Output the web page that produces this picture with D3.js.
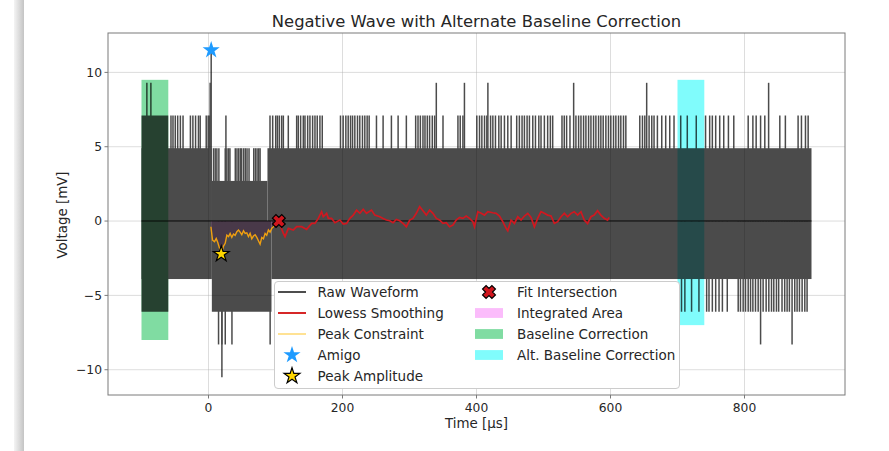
<!DOCTYPE html>
<html><head><meta charset="utf-8">
<script src="https://cdn.jsdelivr.net/npm/d3@7/dist/d3.min.js"></script>
<style>body{margin:0;background:#fff} text{font-family:"DejaVu Sans",sans-serif;fill:#262626}</style>
</head><body><svg id="c" width="889" height="451"></svg>
<script>
// ---------------- data ----------------
const xTicks = [0, 200, 400, 600, 800];
const yTicks = [-10, -5, 0, 5, 10];

// raw waveform envelope (step segments)
const bandTopX = [-100, 5, 88, 900];
const bandTopY = [4.9, 2.7, 4.9];
const bandBotX = [-100, 5, 94, 900];
const bandBotY = [-3.9, -6.1, -3.9];
// densely filled burst: [x0, x1, low, high]
const denseSpans = [[-100, -60, -6.1, 7.1]];
// spike positions (time) by level reached
const spikesTo7 = [-56,-53,-49.6,-46,-42,-38,-27,-23.3,-19.3,-15,-12.4,-3.4,-0.5,1.5,26,
  91.8,95.8,100.3,102.8,105.7,109.2,111.7,119.1,131.6,134,137.5,141.5,144,148,151.4,155.4,158.9,162.3,166.3,169.8,
  197,201,205,208.5,212,215,218.4,222.4,225.8,229.8,233.3,236.8,239.8,250.7,260.6,273,283,295.3,
  309.2,312.7,316.2,320.1,323.1,326.6,330,334,337.5,350,372.3,375.7,379.7,
  400.5,404.5,408,412,415.4,421,424.4,428.3,433.3,436.8,441.7,446.7,451.7,
  460,464,468,471.5,475.5,479,484,488,493,496.3,501.3,506.2,510.2,513.7,
  527.6,531,534.5,539.5,548.4,552.4,555.9,559.8,563.3,567.3,570.8,574.7,578.2,582.2,585.6,589.1,593.1,597,600.5,604.5,608,612,615.4,619.4,622.9,
  643.7,647.7,651.2,657.6,661.6,665,670,676.5,682.4,688.4,694.8,
  704.8,714.6,728,741.9,748,752,757,763,769,776,784,
  805.5,812.5,817.4,824,830.3,852.7,861,880,885,891,895];
const spikesTo5 = [7.5,10,12.5,15.5,25,27.5,30,32,40,42.5,45,47.5,49.5,52.5,55,57.5,60.5,67.5,70,72.5,75,77];
const spikesTo9 = [-92,-86,2.5,340,382,417,545,654,836];
const spikesTo11 = [4];
const spikesToM6 = [706,711,721,732,743.5,747,752,757,762,767,774.3,790.6,794,798,801.5,805.5,809,812.5,816.4,820.4,
  827.8,832.3,836.3,840.3,843.7,847.7,851,856,860,863.6,867,875,878.5,882,886,890,893.4];
const spikesToM8 = [15,20,25,35,92,824,871];
const spikesToM10 = [20];
const spikeLevels = {"7.1": spikesTo7, "4.9": spikesTo5, "9.3": spikesTo9, "11.5": spikesTo11,
  "-6.1": spikesToM6, "-8.3": spikesToM8, "-10.5": spikesToM10};

// peak constraint (orange) and lowess smoothing (red)
const peakX = [3.6,6,9,11.5,14,16.5,19,22.4,24.9,27.4,29.9,32.3,34.8,37.3,39.8,42.3,44.8,47.2,49.7,52.2,54.7,57.2,59.6,62.1,64.6,67.1,69.6,72.1,74.5,77,79.5,82,84.5,86.9,89.4,91.9,94.4,96.9,100.3,104.3];
const peakY = [-0.38,-1.28,-1.39,-1.17,-1.46,-1.84,-2.22,-1.68,-1.5,-0.94,-1.05,-0.83,-1.1,-0.87,-0.96,-0.72,-0.6,-0.74,-0.92,-0.65,-0.83,-0.79,-1.05,-0.83,-1.19,-1.01,-0.92,-1.1,-1.32,-1.55,-1.1,-1.19,-0.83,-0.96,-0.6,-0.74,-0.49,-0.38,-0.2,-0.04];
const lowessX = [106.8,111.8,114.2,119.2,126.6,131.6,139,146.5,153.9,158.9,163.9,168.8,171.3,176.3,178.8,183.7,188.7,196.1,201.1,206.1,211,216,221,225.9,230.9,235.8,243.3,248.2,255.7,
  260.6,265.5,270.5,275.5,280.4,285.4,290.3,295.3,300.3,305.2,310.2,315.2,320.1,325.1,330,335,340,344.9,349.9,354.9,359.8,364.8,369.7,374.7,379.7,384.6,389.6,394.6,397,
  402,407,411.9,416.9,424.3,429.3,434.3,439.2,444.2,446.7,451.6,456.6,461.6,466.5,471.5,476.5,481.4,486.4,491.3,496.3,501.3,506.2,511.2,516.2,521.1,526.1,531.1,536,541,545.9,550.9,555.9,560.8,565.8,570.8,575.7,580.7,585.6,590.6,595.6,598];
const lowessY = [-0.27,-0.83,-1.05,-0.49,-0.6,-0.38,-0.38,-0.56,-0.16,-0.16,0.18,0.63,0.29,0.52,0.18,0.18,-0.11,0.07,-0.2,-0.16,0.18,0.4,0.74,0.52,0.79,0.52,0.74,0.4,0.29,
  0.18,0.07,0.02,-0.11,0.11,0.02,-0.16,-0.38,0.07,0.18,0.52,0.97,0.7,0.4,0.74,0.52,0.18,0.07,-0.16,-0.11,-0.38,-0.27,0.07,0.25,0.18,0.34,0.18,-0.04,-0.38,
  0.63,0.52,0.4,0.63,0.56,0.52,0.34,-0.04,-0.49,-0.65,0.07,-0.16,0.29,0.07,0.34,0.52,0.25,-0.38,0.18,0.63,0.52,0.4,0.34,-0.16,-0.04,0.29,0.52,0.29,0.52,0.63,0.4,0.63,0.07,-0.16,0.29,0.4,0.7,0.4,0.18,0.07,0.25];

const amigo = [4, 11.5];
const peakAmp = [19, -2.22];
const fitPt = [105, 0];
const baselineSpan = [-100, -60, -8, 9.5];
const altBaselineSpan = [700, 740, -7, 9.5];
const zeroLine = [-100, 900];

const legendCol1 = ["Raw Waveform", "Lowess Smoothing", "Peak Constraint", "Amigo", "Peak Amplitude"];
const legendCol2 = ["Fit Intersection", "Integrated Area", "Baseline Correction", "Alt. Baseline Correction"];

// ---------------- drawing ----------------
const svg = d3.select("#c");
const L = 108, R = 845, T = 33, B = 395;
const x = d3.scaleLinear().domain([-150, 950]).range([L, R]);
const y = d3.scaleLinear().domain([-11.7, 12.65]).range([B, T]);

svg.append("rect").attr("width", 889).attr("height", 451).attr("fill", "#fff");
// notebook side shadow strip
const defs = svg.append("defs");
const g1 = defs.append("linearGradient").attr("id", "sh");
g1.append("stop").attr("offset", "0").attr("stop-color", "#f4f4f4");
g1.append("stop").attr("offset", "1").attr("stop-color", "#c4c4c4");
svg.append("rect").attr("x", 14).attr("y", 0).attr("width", 10).attr("height", 451).attr("fill", "url(#sh)");

// grid
const grid = svg.append("g").attr("stroke", "#b0b0b0").attr("stroke-opacity", 0.55).attr("stroke-width", 0.8);
xTicks.forEach(t => grid.append("line").attr("x1", x(t)).attr("x2", x(t)).attr("y1", T).attr("y2", B));
yTicks.forEach(t => grid.append("line").attr("y1", y(t)).attr("y2", y(t)).attr("x1", L).attr("x2", R));

// spans
svg.append("rect").attr("x", x(baselineSpan[0])).attr("width", x(baselineSpan[1]) - x(baselineSpan[0]))
  .attr("y", y(baselineSpan[3])).attr("height", y(baselineSpan[2]) - y(baselineSpan[3])).attr("fill", "#80dca2");
svg.append("rect").attr("x", x(altBaselineSpan[0])).attr("width", x(altBaselineSpan[1]) - x(altBaselineSpan[0]))
  .attr("y", y(altBaselineSpan[3])).attr("height", y(altBaselineSpan[2]) - y(altBaselineSpan[3])).attr("fill", "#80fcfc");

// integrated area
const area = d3.area().x((d, i) => x(peakX[i])).y0(y(0)).y1((d, i) => y(peakY[i]));
svg.append("path").attr("d", area(peakX)).attr("fill", "#f6c0f6");

// raw waveform
const wf = svg.append("g").attr("opacity", 0.7);
for (let i = 0; i < bandTopY.length; i++) {
  wf.append("rect").attr("x", x(bandTopX[i])).attr("width", x(bandTopX[i + 1]) - x(bandTopX[i]))
    .attr("y", y(bandTopY[i])).attr("height", y(0) - y(bandTopY[i])).attr("fill", "#000");
}
for (let i = 0; i < bandBotY.length; i++) {
  wf.append("rect").attr("x", x(bandBotX[i])).attr("width", x(bandBotX[i + 1]) - x(bandBotX[i]))
    .attr("y", y(0)).attr("height", y(bandBotY[i]) - y(0)).attr("fill", "#000");
}
denseSpans.forEach(s => wf.append("rect").attr("x", x(s[0])).attr("width", x(s[1]) - x(s[0]))
  .attr("y", y(s[3])).attr("height", y(s[2]) - y(s[3])).attr("fill", "#000"));
Object.entries(spikeLevels).forEach(([lvl, xs]) => {
  const v = +lvl;
  xs.forEach(t => wf.append("line").attr("x1", x(t)).attr("x2", x(t)).attr("y1", y(0)).attr("y2", y(v))
    .attr("stroke", "#000").attr("stroke-width", 1.5));
});

// zero line
svg.append("line").attr("x1", x(zeroLine[0])).attr("x2", x(zeroLine[1])).attr("y1", y(0)).attr("y2", y(0))
  .attr("stroke", "#000").attr("stroke-opacity", 0.6).attr("stroke-width", 1.5);

// curves
const ln = (xs, ys) => d3.line().x((d, i) => x(xs[i])).y((d, i) => y(ys[i]))(xs);
svg.append("path").attr("d", ln(peakX, peakY)).attr("fill", "none").attr("stroke", "#f0a010").attr("stroke-width", 1.4);
svg.append("path").attr("d", ln(lowessX, lowessY)).attr("fill", "none").attr("stroke", "#d01820").attr("stroke-width", 1.7);

// markers
function starPath(Ro) {
  const ri = Ro * 0.381966, p = [];
  for (let i = 0; i < 10; i++) { const a = -Math.PI / 2 + i * Math.PI / 5, r = i % 2 ? ri : Ro; p.push([r * Math.cos(a), r * Math.sin(a)]); }
  return "M" + p.map(d => d[0].toFixed(2) + "," + d[1].toFixed(2)).join("L") + "Z";
}
function xPath(s, w) {
  const pts = [[w, s], [w, w], [s, w], [s, -w], [w, -w], [w, -s], [-w, -s], [-w, -w], [-s, -w], [-s, w], [-w, w], [-w, s]];
  const c = Math.SQRT1_2;
  return "M" + pts.map(([a, b]) => ((a - b) * c).toFixed(2) + "," + ((a + b) * c).toFixed(2)).join("L") + "Z";
}
function drawMarker(g, type, cx, cy) {
  if (type === "amigo") g.append("path").attr("d", starPath(9)).attr("transform", `translate(${cx},${cy})`).attr("fill", "#1e9bff");
  if (type === "peak") g.append("path").attr("d", starPath(8.3)).attr("transform", `translate(${cx},${cy})`).attr("fill", "#ffd700").attr("stroke", "#000").attr("stroke-width", 1.2);
  if (type === "fit") g.append("path").attr("d", xPath(6.6, 2.5)).attr("transform", `translate(${cx},${cy})`).attr("fill", "#d0161e").attr("stroke", "#000").attr("stroke-width", 1.2);
}
drawMarker(svg, "amigo", x(amigo[0]), y(amigo[1]));
drawMarker(svg, "peak", x(peakAmp[0]), y(peakAmp[1]));
drawMarker(svg, "fit", x(fitPt[0]), y(fitPt[1]));

// axes frame
svg.append("rect").attr("x", L).attr("y", T).attr("width", R - L).attr("height", B - T)
  .attr("fill", "none").attr("stroke", "#7a7a7a").attr("stroke-width", 1);
const ax = svg.append("g");
xTicks.forEach(t => {
  ax.append("line").attr("x1", x(t)).attr("x2", x(t)).attr("y1", B).attr("y2", B + 3.5).attr("stroke", "#7a7a7a");
  ax.append("text").attr("x", x(t)).attr("y", 411.5).attr("text-anchor", "middle").attr("font-size", 12.3).text(d3.format("d")(t));
});
yTicks.forEach(t => {
  ax.append("line").attr("y1", y(t)).attr("y2", y(t)).attr("x1", L - 3.5).attr("x2", L).attr("stroke", "#7a7a7a");
  ax.append("text").attr("x", 102).attr("y", y(t) + 4.4).attr("text-anchor", "end").attr("font-size", 12.3)
    .text(t < 0 ? "\u2212" + Math.abs(t) : String(t));
});
svg.append("text").attr("x", (L + R) / 2).attr("y", 428).attr("text-anchor", "middle").attr("font-size", 13.4).text("Time [\u03bcs]");
svg.append("text").attr("transform", "translate(67,215) rotate(-90)").attr("text-anchor", "middle").attr("font-size", 13.4).text("Voltage [mV]");
svg.append("text").attr("x", (L + R) / 2).attr("y", 27).attr("text-anchor", "middle").attr("font-size", 16.4).text("Negative Wave with Alternate Baseline Correction");

// legend
const lg = svg.append("g");
lg.append("rect").attr("x", 274.5).attr("y", 281.5).attr("width", 405).attr("height", 107).attr("rx", 3.5)
  .attr("fill", "#fff").attr("stroke", "#cccccc");
const rows = [292, 313, 334, 355, 376];
const h1 = [278, 306], h2 = [475, 503];
legendCol1.forEach((lab, i) => {
  const yy = rows[i];
  if (i === 0) lg.append("line").attr("x1", h1[0]).attr("x2", h1[1]).attr("y1", yy).attr("y2", yy).attr("stroke", "#4d4d4d").attr("stroke-width", 2);
  if (i === 1) lg.append("line").attr("x1", h1[0]).attr("x2", h1[1]).attr("y1", yy).attr("y2", yy).attr("stroke", "#d62728").attr("stroke-width", 2);
  if (i === 2) lg.append("line").attr("x1", h1[0]).attr("x2", h1[1]).attr("y1", yy).attr("y2", yy).attr("stroke", "#ffd970").attr("stroke-width", 1.5);
  if (i === 3) drawMarker(lg, "amigo", (h1[0] + h1[1]) / 2, yy);
  if (i === 4) drawMarker(lg, "peak", (h1[0] + h1[1]) / 2, yy);
  lg.append("text").attr("x", 317.5).attr("y", yy + 5).attr("font-size", 13.5).text(lab);
});
const patchColors = [null, "#fbbcfb", "#80dca2", "#80fcfc"];
legendCol2.forEach((lab, i) => {
  const yy = rows[i];
  if (i === 0) drawMarker(lg, "fit", (h2[0] + h2[1]) / 2, yy);
  else lg.append("rect").attr("x", h2[0]).attr("y", yy - 4.9).attr("width", h2[1] - h2[0]).attr("height", 9.8).attr("fill", patchColors[i]);
  lg.append("text").attr("x", 517).attr("y", yy + 5).attr("font-size", 13.5).text(lab);
});
</script></body></html>
